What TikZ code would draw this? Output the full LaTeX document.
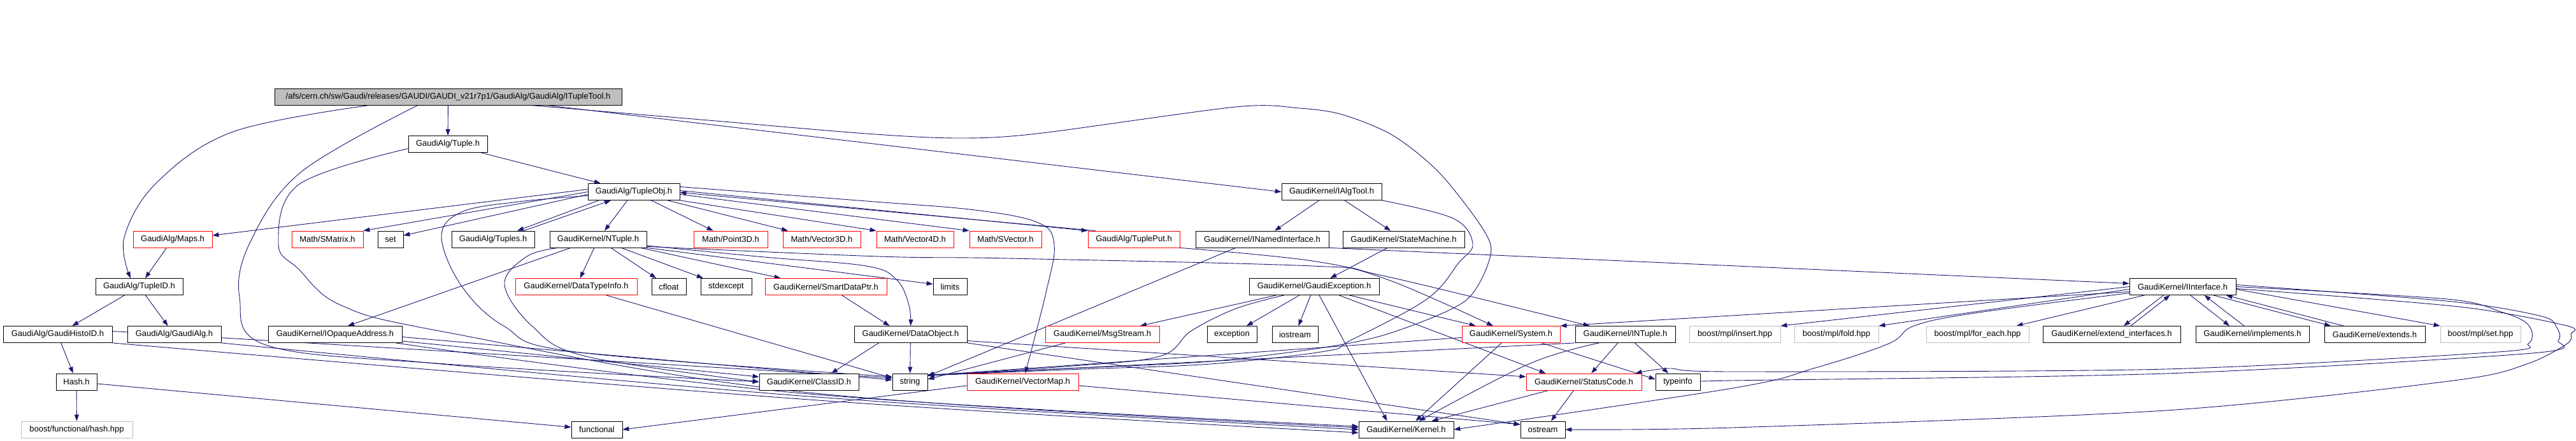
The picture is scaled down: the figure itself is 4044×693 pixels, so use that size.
\documentclass[tikz,border=0pt]{standalone}
\usepackage{fontspec}
\setmainfont{Liberation Sans}
\usetikzlibrary{
  arrows.meta,
  chains,
  scopes,
  backgrounds
}
\definecolor{edgeblue}{HTML}{191970}
\definecolor{boxgray}{HTML}{BFBFBF}

\begin{document}
\begin{tikzpicture}[
      x=1pt,y=-1pt,
      incfile/.style={
         rectangle,
         minimum width=#1,
         minimum height=26pt,
         inner sep=0pt,
         line width=0.8pt,
         draw=black,
         fill=white,
         font=\fontsize{13pt}{15pt}\selectfont,
      },
      incred/.style={incfile=#1,draw=red},
      incext/.style={incfile=#1,draw=boxgray},
      inctop/.style={incfile=#1,fill=boxgray},
      >={Triangle[length=10pt,width=7pt]},
      tip/.style={->,draw=edgeblue,line width=0.9pt},
    ]
    \useasboundingbox (0,0) rectangle (4044,693);

    \node (n1) [inctop=545pt] at (703.5,152) {/afs/cern.ch/sw/Gaudi/releases/GAUDI/GAUDI\_v21r7p1/GaudiAlg/GaudiAlg/ITupleTool.h};
    \node (n2) [incfile=124pt] at (703,226.5) {GaudiAlg/Tuple.h};
    \node (n3) [incfile=144pt] at (995,301.5) {GaudiAlg/TupleObj.h};
    \node (n4) [incfile=157pt] at (2090.5,301.5) {GaudiKernel/IAlgTool.h};

    \node (n5) [incred=124pt] at (271,376) {GaudiAlg/Maps.h};
    \node (n6) [incred=112pt] at (514,376) {Math/SMatrix.h};
    \node (n7) [incfile=40pt] at (613,376) {set};
    \node (n8) [incfile=130pt] at (774,376) {GaudiAlg/Tuples.h};
    \node (n9) [incfile=152pt] at (939,376) {GaudiKernel/NTuple.h};
    \node (n10) [incred=116pt] at (1147,376) {Math/Point3D.h};
    \node (n11) [incred=122pt] at (1290,376) {Math/Vector3D.h};
    \node (n12) [incred=121pt] at (1436.5,376) {Math/Vector4D.h};
    \node (n13) [incred=113pt] at (1578.5,376) {Math/SVector.h};
    \node (n14) [incred=144pt] at (1780,376) {GaudiAlg/TuplePut.h};
    \node (n15) [incfile=209pt] at (1981.5,376) {GaudiKernel/INamedInterface.h};
    \node (n16) [incfile=191pt] at (2203.5,376) {GaudiKernel/StateMachine.h};

    \node (n17) [incfile=137pt] at (218.5,450.5) {GaudiAlg/TupleID.h};
    \node (n18) [incred=191pt] at (904.5,450.5) {GaudiKernel/DataTypeInfo.h};
    \node (n19) [incfile=54pt] at (1050,450.5) {cfloat};
    \node (n20) [incfile=80pt] at (1140,450.5) {stdexcept};
    \node (n21) [incred=191pt] at (1296.5,450.5) {GaudiKernel/SmartDataPtr.h};
    \node (n22) [incfile=53pt] at (1491.5,450.5) {limits};
    \node (n23) [incfile=204pt] at (2063,450.5) {GaudiKernel/GaudiException.h};
    \node (n24) [incfile=167pt] at (3426.5,450.5) {GaudiKernel/IInterface.h};

    \node (n25) [incfile=171pt] at (90.5,525.5) {GaudiAlg/GaudiHistoID.h};
    \node (n26) [incfile=147pt] at (273.5,525.5) {GaudiAlg/GaudiAlg.h};
    \node (n27) [incfile=210pt] at (526,525.5) {GaudiKernel/IOpaqueAddress.h};
    \node (n28) [incfile=177pt] at (1429.5,525.5) {GaudiKernel/DataObject.h};
    \node (n29) [incred=179pt] at (1730.5,525.5) {GaudiKernel/MsgStream.h};
    \node (n30) [incfile=78pt] at (1934,525.5) {exception};
    \node (n31) [incfile=72pt] at (2033,525.5) {iostream};
    \node (n32) [incred=154pt] at (2372,525.5) {GaudiKernel/System.h};
    \node (n33) [incfile=157pt] at (2551.5,525.5) {GaudiKernel/INTuple.h};
    \node (n34) [incext=143pt] at (2723.5,525.5) {boost/mpl/insert.hpp};
    \node (n35) [incext=132pt] at (2883,525.5) {boost/mpl/fold.hpp};
    \node (n36) [incext=161pt] at (3104.5,525.5) {boost/mpl/for\_each.hpp};
    \node (n37) [incfile=216pt] at (3315,525.5) {GaudiKernel/extend\_interfaces.h};
    \node (n38) [incfile=178pt] at (3536,525.5) {GaudiKernel/implements.h};
    \node (n39) [incfile=158pt] at (3728,525.5) {GaudiKernel/extends.h};
    \node (n40) [incext=126pt] at (3894,525.5) {boost/mpl/set.hpp};

    \node (n41) [incfile=64pt] at (120,600) {Hash.h};
    \node (n42) [incfile=156pt] at (1270,600) {GaudiKernel/ClassID.h};
    \node (n43) [incfile=55pt] at (1428.5,600) {string};
    \node (n44) [incred=175pt] at (1605.5,600) {GaudiKernel/VectorMap.h};
    \node (n45) [incred=181pt] at (2486.5,600) {GaudiKernel/StatusCode.h};
    \node (n46) [incfile=70pt] at (2634,600) {typeinfo};

    \node (n47) [incext=175pt] at (120.5,675) {boost/functional/hash.hpp};
    \node (n48) [incfile=80pt] at (937,675) {functional};
    \node (n49) [incfile=149pt] at (2207.5,675) {GaudiKernel/Kernel.h};
    \node (n50) [incfile=70pt] at (2422,675) {ostream};

  \begin{scope}[on background layer]
  { [start chain] \chainin (n1); \chainin (n2) [join=by tip]; }
  { [start chain] \chainin (n2); \chainin (n3) [join=by tip]; }
  { [start chain] \chainin (n3); \chainin (n9) [join=by tip]; }
  { [start chain] \chainin (n3); \chainin (n10) [join=by tip]; }
  { [start chain] \chainin (n3); \chainin (n11) [join=by tip]; }
  { [start chain] \chainin (n5); \chainin (n17) [join=by tip]; }
  { [start chain] \chainin (n17); \chainin (n25) [join=by tip]; }
  { [start chain] \chainin (n17); \chainin (n26) [join=by tip]; }
  { [start chain] \chainin (n25); \chainin (n41) [join=by tip]; }
  { [start chain] \chainin (n41); \chainin (n47) [join=by tip]; }
  { [start chain] \chainin (n41); \chainin (n48) [join=by tip]; }
  { [start chain] \chainin (n9); \chainin (n18) [join=by tip]; }
  { [start chain] \chainin (n9); \chainin (n19) [join=by tip]; }
  { [start chain] \chainin (n9); \chainin (n20) [join=by tip]; }
  { [start chain] \chainin (n27); \chainin (n42) [join=by tip]; }
  { [start chain] \chainin (n4); \chainin (n15) [join=by tip]; }
  { [start chain] \chainin (n4); \chainin (n16) [join=by tip]; }
  { [start chain] \chainin (n16); \chainin (n23) [join=by tip]; }
  { [start chain] \chainin (n23); \chainin (n29) [join=by tip]; }
  { [start chain] \chainin (n23); \chainin (n30) [join=by tip]; }
  { [start chain] \chainin (n23); \chainin (n31) [join=by tip]; }
  { [start chain] \chainin (n23); \chainin (n32) [join=by tip]; }
  { [start chain] \chainin (n28); \chainin (n43) [join=by tip]; }
  { [start chain] \chainin (n32); \chainin (n49) [join=by tip]; }
  { [start chain] \chainin (n33); \chainin (n45) [join=by tip]; }
  { [start chain] \chainin (n33); \chainin (n46) [join=by tip]; }

    \draw[tip] ([xshift=154.5pt]n1.south) -- (n4.west);
    \draw[tip] plot[smooth,tension=0.6] coordinates {([xshift=-123.5pt]n1.south) (366,207) (246,287) (195,373) ([xshift=-13.5pt]n17.north)};
    \draw[tip] plot[smooth,tension=0.6] coordinates {([xshift=-47.5pt]n1.south) (473,270) (393,380) (376,467) (420,543) (700,572) (n42.west)};
    \draw[tip] plot[smooth,tension=0.5] coordinates {([xshift=128.5pt]n1.south) (1100,188) (1360,210) (1503,217) (1628,210) (1940,168) (2040,170) (2107,180) (2187,213) (2261,273) (2330,363) (2339,405) (2300,473) (2187,522) (2085,545) (1900,568) (1700,578) ([yshift=11pt]n43.east)};
    \draw[tip] plot[smooth,tension=0.6] coordinates {([yshift=-7pt]n2.west) (469,290) (437,383) (469,423) (536,480) (700,522) (1270,617) ([yshift=3pt]n49.west)};

    \draw[tip] ([yshift=4pt]n3.west) -- ([yshift=6pt]n5.east);
    \draw[tip] (n3.west) -- (n6.north east);
    \draw[tip] ([yshift=-4pt]n3.west) -- ([yshift=6pt]n7.east);
    \draw[tip] ([xshift=-55pt]n3.south) -- ([xshift=38pt]n8.north);
    \draw[tip] ([xshift=48pt]n8.north) -- ([xshift=-36pt]n3.south);
    \draw[tip] (n3.south east) -- (n12.north west);
    \draw[tip] ([yshift=-4pt]n3.east) -- (n13.north west);
    \draw[tip] ([yshift=2pt]n3.east) -- (n14.north west);
    \draw[tip] ([xshift=12pt]n14.north west) -- ([yshift=-1pt]n3.east);
    \draw[tip] plot[smooth,tension=0.6] coordinates {([yshift=8pt]n3.east) (1360,316) (1530,330) (1630,350) (1655,385) (1642,460) ([xshift=4pt]n44.north)};
    \draw[tip] plot[smooth,tension=0.6] coordinates {([yshift=-6pt]n3.west) (814,317) (725,333) (693,372) (725,450) (792,513) (903,553) ([yshift=8pt]n43.west)};

    \draw[tip] ([xshift=-43pt]n9.south) -- ([xshift=20pt]n27.north);
    \draw[tip] ([xshift=-10pt]n9.south east) -- ([xshift=25pt]n21.north west);
    \draw[tip] (n9.south east) -- ([yshift=4pt]n22.west);
    \draw[tip] plot[smooth,tension=0.6] coordinates {([yshift=-10pt]n9.east) (1200,404) (1360,418) (1408,440) (1427,480) (n28.north)};
    \draw[tip] plot[smooth,tension=0.6] coordinates {([yshift=2pt]n9.south east) (1380,403) (1583,406) (2060,418) (2170,433) ([xshift=-56pt]n33.north)};
    \draw[tip] plot[smooth,tension=0.6] coordinates {([xshift=-63pt]n9.south) (827,403) (792,447) (836,513) (920,560) (n42.west)};
    \draw[tip] plot[smooth,tension=0.6] coordinates {(n14.south east) (2060,410) (2180,440) ([xshift=-28pt]n32.north)};

    \draw[tip] ([yshift=5pt]n25.east) -- ([yshift=6pt]n43.west);
    \draw[tip] plot[smooth,tension=0.6] coordinates {(n25.south east) (1270,628) ([yshift=-5pt]n49.west)};
    \draw[tip] plot[smooth,tension=0.6] coordinates {(n26.south east) (1270,623) (n49.west)};
    \draw[tip] ([yshift=-4pt]n27.east) -- ([yshift=3pt]n43.west);
    \draw[tip] plot[smooth,tension=0.6] coordinates {([xshift=-10pt]n27.south east) (1270,619) ([yshift=5pt]n49.west)};
    \draw[tip] ([xshift=47pt]n18.south) -- ([yshift=6pt]n43.west);
    \draw[tip] ([xshift=25pt]n21.south) -- ([xshift=-33pt]n28.north);
    \draw[tip] ([xshift=-50pt]n28.south) -- ([xshift=35pt]n42.north);
    \draw[tip] ([yshift=-10pt]n28.east) -- ([yshift=8pt]n45.west);
    \draw[tip] (n28.south east) -- ([yshift=8pt]n50.west);
    \draw[tip] ([yshift=-6pt]n44.west) -- (n48.east);
    \draw[tip] ([yshift=-6pt]n44.east) -- ([yshift=8pt]n50.west);

    \draw[tip] plot[smooth,tension=0.6] coordinates {(n4.south east) (2281,343) (2312,383) (2290,413) (2240,470) (2120,535) (2080,552) (1900,572) (1700,580) ([yshift=10pt]n43.east)};
    \draw[tip] (n15.south east) -- ([yshift=5pt]n24.west);
    \draw[tip] ([xshift=-41.5pt]n15.south) -- ([yshift=9pt]n43.east);
    \draw[tip] ([xshift=39pt]n23.south) -- ([xshift=-60pt]n45.north);
    \draw[tip] ([xshift=8pt]n23.south) -- ([xshift=-30pt]n49.north);
    \draw[tip] plot[smooth,tension=0.6] coordinates {([xshift=-47pt]n23.south) (1940,485) (1870,520) (1820,560) (1672,576) ([yshift=10pt]n43.east)};
    \draw[tip] ([xshift=-58pt]n29.south) -- ([yshift=4pt]n43.east);
    \draw[tip] ([xshift=48pt]n32.south) -- ([yshift=4pt]n46.west);
    \draw[tip] ([yshift=-5pt]n32.west) -- ([yshift=10pt]n43.east);
    \draw[tip] (n33.south west) -- ([yshift=10pt]n43.east);
    \draw[tip] plot[smooth,tension=0.6] coordinates {([xshift=-41pt]n33.south) (2400,572) ([xshift=20pt]n49.north)};
    \draw[tip] ([xshift=-55pt]n45.south) -- ([xshift=40pt]n49.north);
    \draw[tip] ([xshift=-16pt]n45.south) -- ([xshift=13pt]n50.north);

    \draw[tip] ([yshift=-8pt]n24.west) -- (n32.north east);
    \draw[tip] (n24.west) -- (n34.north east);
    \draw[tip] ([yshift=-4pt]n24.west) -- (n35.north east);
    \draw[tip] ([xshift=-60pt]n24.south) -- ([xshift=-20pt]n36.north east);
    \draw[tip] ([xshift=-30pt]n24.south) -- ([xshift=19pt]n37.north);
    \draw[tip] ([xshift=30pt]n37.north) -- ([xshift=-20pt]n24.south);
    \draw[tip] ([xshift=12pt]n24.south) -- ([xshift=-36pt]n38.north);
    \draw[tip] ([xshift=-13pt]n38.north) -- ([xshift=34pt]n24.south);
    \draw[tip] ([xshift=48pt]n24.south) -- ([xshift=-69pt]n39.north);
    \draw[tip] ([xshift=-49pt]n39.north) -- ([xshift=68pt]n24.south);
    \draw[tip] ([yshift=-4pt]n24.east) -- (n40.north west);
    \draw[tip] plot[smooth,tension=0.6] coordinates {([yshift=-10pt]n24.west) (3100,492) (3005,512) (2965,540) (2850,578) (2720,610) (n49.east)};
    \draw[tip] plot[smooth,tension=0.5] coordinates {(n24.east) (3842,470) (3926,490) (3963,505) (3975,522) (3969,540) (3922,553) (3400,580) (2720,584) (2620,579) ([xshift=-10pt]n45.north east)};
    \draw[tip] plot[smooth,tension=0.5] coordinates {([yshift=3pt]n24.east) (3850,474) (3990,497) (4014,515) (4016,535) (3975,555) (3400,587) (2720,598) (n46.east)};
    \draw[tip] plot[smooth,tension=0.5] coordinates {([yshift=-3pt]n24.east) (3860,482) (4030,512) (4036,525) (4030,540) (3967,572) (3852,598) (3400,645) (2720,672) (n50.east)};
  \end{scope}
\end{tikzpicture}
\end{document}
